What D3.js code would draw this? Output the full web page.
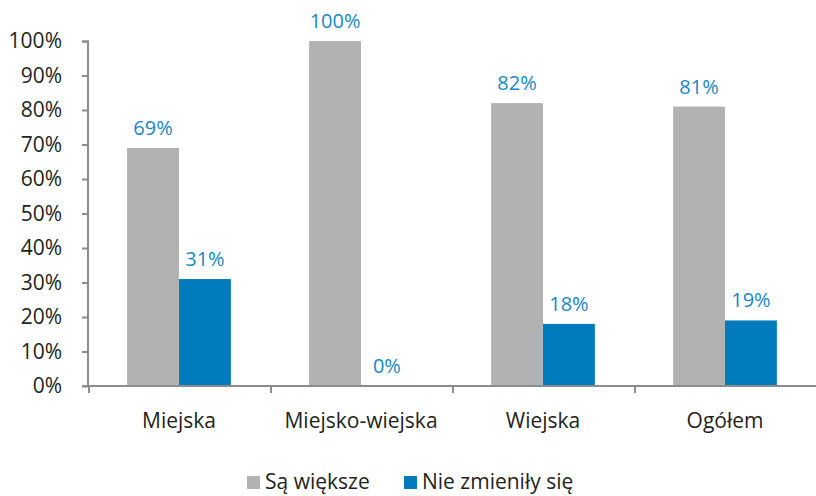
<!DOCTYPE html>
<html>
<head>
<meta charset="utf-8">
<script src="https://cdn.jsdelivr.net/npm/d3@7"></script>
<style>
  body { margin: 0; background: #fff; }
  text { font-family: "Open Sans", "Noto Sans", sans-serif; }
</style>
</head>
<body>
<div id="chart"></div>
<script>
const categories = ['Miejska', 'Miejsko-wiejska', 'Wiejska', 'Ogółem'];
const seriesNames = ['Są większe', 'Nie zmieniły się'];
const saWieksze = [69, 100, 82, 81];
const nieZmienily = [31, 0, 18, 19];
const yTicks = [0, 10, 20, 30, 40, 50, 60, 70, 80, 90, 100];

const colors = ['#b2b2b2', '#007bbb'];
const labelColor = '#1a87c6';
const axisColor = '#8c8c8c';

const W = 816, H = 496;
const margin = { top: 41, right: 0, bottom: 110, left: 88 };
const width = W - margin.left - margin.right;
const height = H - margin.top - margin.bottom;

const svg = d3.select('#chart')
  .append('svg')
  .attr('width', W)
  .attr('height', H)
  .append('g')
  .attr('transform', `translate(${margin.left},${margin.top})`);

const x0 = d3.scaleBand()
  .domain(categories)
  .range([0, width])
  .padding(0);

const x1 = d3.scaleBand()
  .domain(seriesNames)
  .range([x0.bandwidth() * 0.215, x0.bandwidth() * 0.785])
  .padding(0);

const y = d3.scaleLinear()
  .domain([0, 100])
  .range([height, 0]);

// y axis
const yAxis = svg.append('g')
  .call(d3.axisLeft(y).tickValues(yTicks).tickSize(6).tickPadding(20).tickFormat(d => d + '%'));
yAxis.select('.domain').attr('stroke', axisColor).attr('stroke-width', 2).attr('d', `M-6,0.5H0V${height}`);
yAxis.selectAll('.tick line').attr('stroke', axisColor).attr('stroke-width', 2);
yAxis.selectAll('.tick text')
  .attr('fill', '#231f20')
  .style('font-size', '21px');

const data = categories.map((c, i) => ({ cat: c, values: [saWieksze[i], nieZmienily[i]] }));

const groups = svg.selectAll('.group')
  .data(data)
  .enter().append('g')
  .attr('transform', d => `translate(${x0(d.cat)},0)`);

groups.selectAll('rect')
  .data(d => d.values.map((v, j) => ({ key: seriesNames[j], value: v, j })))
  .enter().append('rect')
  .attr('x', d => x1(d.key))
  .attr('y', d => y(d.value))
  .attr('width', x1.bandwidth())
  .attr('height', d => height - y(d.value))
  .attr('fill', d => colors[d.j]);

groups.selectAll('.lbl')
  .data(d => d.values.map((v, j) => ({ key: seriesNames[j], value: v })))
  .enter().append('text')
  .attr('class', 'lbl')
  .attr('x', d => x1(d.key) + x1.bandwidth() / 2)
  .attr('y', d => y(d.value) - 13)
  .attr('text-anchor', 'middle')
  .attr('fill', labelColor)
  .style('font-size', '20px')
  .text(d => d.value + '%');

// x axis
const xAxis = svg.append('g')
  .attr('transform', `translate(0,${height})`)
  .call(d3.axisBottom(x0).tickSize(0).tickPadding(27));
xAxis.select('.domain').remove();
xAxis.selectAll('.tick text')
  .attr('fill', '#231f20')
  .style('font-size', '21px');

svg.append('line')
  .attr('x1', -6).attr('x2', width)
  .attr('y1', height).attr('y2', height)
  .attr('stroke', axisColor).attr('stroke-width', 2);

svg.selectAll('.sep')
  .data(categories)
  .enter().append('line')
  .attr('x1', d => x0(d) + 1).attr('x2', d => x0(d) + 1)
  .attr('y1', height).attr('y2', height + 7)
  .attr('stroke', axisColor).attr('stroke-width', 2);

// legend
const legendX = [159, 316];
const legend = svg.append('g')
  .attr('transform', `translate(0,${height + 103})`);
seriesNames.forEach((name, i) => {
  legend.append('rect')
    .attr('x', legendX[i])
    .attr('y', -13)
    .attr('width', 13)
    .attr('height', 13)
    .attr('fill', colors[i]);
  legend.append('text')
    .attr('x', legendX[i] + 18)
    .attr('y', 0)
    .attr('fill', '#231f20')
    .style('font-size', '21px')
    .text(name);
});
</script>
</body>
</html>
